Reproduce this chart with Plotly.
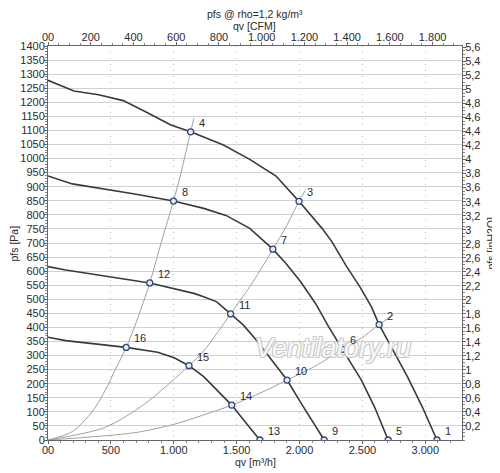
import plotly.graph_objects as go

# fan curves, qv [m3/h] vs pfs [Pa]
q_fan1 = [0, 206, 402, 598, 768, 977, 1134, 1395, 1604, 1813, 1996, 2179, 2257,
          2375, 2479, 2571, 2633, 2727, 2858, 2976, 3093]
p_fan1 = [1278, 1240, 1227, 1206, 1168, 1119, 1095, 1048, 997, 938, 848, 752, 705,
          616, 545, 474, 410, 332, 225, 118, 0]

q_fan2 = [0, 194, 690, 998, 1238, 1415, 1604, 1788, 1891, 2009, 2126, 2231, 2341,
          2492, 2596, 2705]
p_fan2 = [938, 910, 874, 849, 823, 798, 752, 678, 628, 562, 486, 403, 322,
          213, 118, 0]

q_fan3 = [0, 141, 809, 1160, 1238, 1342, 1452, 1552, 1656, 1761, 1901, 2022, 2196]
p_fan3 = [616, 604, 558, 521, 509, 491, 448, 409, 355, 296, 213, 124, 0]

q_fan4 = [0, 141, 622, 872, 1003, 1121, 1238, 1369, 1461, 1578, 1685]
p_fan4 = [365, 353, 329, 312, 292, 264, 225, 166, 124, 59, 0]

# system curves
q_sys1 = [0, 194, 350, 455, 533, 622, 703, 809, 899, 998, 1055, 1134, 1160]
p_sys1 = [0, 30, 100, 176, 248, 329, 420, 558, 700, 849, 945, 1095, 1143]

q_sys2 = [0, 455, 768, 1121, 1238, 1452, 1630, 1788, 1891, 1996, 2048]
p_sys2 = [0, 45, 128, 264, 316, 448, 562, 678, 756, 848, 888]

q_sys3 = [0, 690, 1003, 1238, 1461, 1708, 1901, 2126, 2341, 2492, 2633, 2748]
p_sys3 = [0, 26, 56, 89, 124, 171, 213, 263, 322, 362, 410, 444]

# operating points
op_lbl = ['1', '2', '3', '4', '5', '6', '7', '8',
          '9', '10', '11', '12', '13', '14', '15', '16']
op_q = [3093, 2633, 1996, 1134, 2705, 2341, 1788, 998,
        2196, 1901, 1452, 809, 1685, 1461, 1121, 622]
op_p = [0, 410, 848, 1095, 0, 322, 678, 849,
        0, 213, 448, 558, 0, 124, 264, 329]

# axis ticks
qv_ticks = [0, 500, 1000, 1500, 2000, 2500, 3000]
qv_text = ['00', '500', '1.000', '1.500', '2.000', '2.500', '3.000']
cfm_ticks = [0, 200, 400, 600, 800, 1000, 1200, 1400, 1600, 1800]
cfm_text = ['00', '200', '400', '600', '800', '1.000', '1.200', '1.400', '1.600', '1.800']
inh2o_ticks = [0.2, 0.4, 0.6, 0.8, 1, 1.2, 1.4, 1.6, 1.8, 2, 2.2, 2.4, 2.6, 2.8, 3,
               3.2, 3.4, 3.6, 3.8, 4, 4.2, 4.4, 4.6, 4.8, 5, 5.2, 5.4, 5.6]
inh2o_text = [('%g' % v).replace('.', ',') for v in inh2o_ticks]

Q_MAX = 3292
P_MAX = 1400
M3H_PER_CFM = 1.699
PA_PER_INH2O = 249.09

FONT = 'Liberation Sans, Arial, sans-serif'
TXT = '#2b2b2b'

fig = go.Figure()

for q, p in [(q_sys1, p_sys1), (q_sys2, p_sys2), (q_sys3, p_sys3)]:
    fig.add_trace(go.Scatter(x=q, y=p, mode='lines',
                             line=dict(color='#a0a0a0', width=1, shape='spline', smoothing=0.8),
                             hoverinfo='skip', showlegend=False))

for q, p in [(q_fan1, p_fan1), (q_fan2, p_fan2), (q_fan3, p_fan3), (q_fan4, p_fan4)]:
    fig.add_trace(go.Scatter(x=q, y=p, mode='lines',
                             line=dict(color='#3a3a3a', width=1.6),
                             showlegend=False))

fig.add_trace(go.Scatter(x=op_q, y=op_p, mode='markers',
                         marker=dict(symbol='circle', size=6, color='#e6ecf6',
                                     line=dict(color='#34497a', width=1.3)),
                         showlegend=False))

# same points in CFM / inH2O so the top and right scales get drawn
fig.add_trace(go.Scatter(x=[q / M3H_PER_CFM for q in op_q], y=op_p, xaxis='x2', yaxis='y',
                         mode='markers', marker=dict(opacity=0), hoverinfo='skip', showlegend=False))
fig.add_trace(go.Scatter(x=op_q, y=[p / PA_PER_INH2O for p in op_p], xaxis='x', yaxis='y2',
                         mode='markers', marker=dict(opacity=0), hoverinfo='skip', showlegend=False))

# watermark (under the point labels)
fig.add_annotation(xref='paper', yref='paper', x=(331 - 42) / 420, y=(440 - 348) / 394,
                   xanchor='center', yanchor='middle',
                   text='<i>Ventilatory.ru</i>', showarrow=False,
                   font=dict(size=27, color='rgba(255,255,255,0.9)', family=FONT,
                             shadow='1px 1px 0 #c8c8c8, -1px -1px 0 #c8c8c8, 1px -1px 0 #c8c8c8, -1px 1px 0 #c8c8c8'))

for q, p, t in zip(op_q, op_p, op_lbl):
    fig.add_annotation(x=q, y=p, text=t, showarrow=False, xanchor='left', yanchor='middle',
                       xshift=6, yshift=9, font=dict(size=11, color=TXT, family=FONT))

# titles
titles = [
    ('pfs @ rho=1,2 kg/m³', (252 - 42) / 420, (440 - 14) / 394, 0),
    ('qv [CFM]', (251 - 42) / 420, (440 - 25.5) / 394, 0),
    ('qv [m³/h]', (252 - 42) / 420, (440 - 462) / 394, 0),
    ('pfs [Pa]', (8 - 42) / 420, 0.5, -90),
    ('pfs [inH2O]', (491 - 42) / 420, 0.5, -90),
]
for t, x, y, a in titles:
    fig.add_annotation(xref='paper', yref='paper', x=x, y=y, text=t, showarrow=False,
                       xanchor='center', yanchor='middle',
                       textangle=a, font=dict(size=10.5, color=TXT, family=FONT))

tick_font = dict(size=11, color=TXT, family=FONT)
axis_common = dict(showline=True, linecolor='#666666', linewidth=1, ticks='outside',
                   ticklen=3, tickcolor='#666666', tickfont=tick_font, zeroline=False,
                   ticklabelstandoff=-3)

# page body adds 8px, so the figure is drawn 8px smaller with margins shifted
fig.update_layout(
    width=492, height=465,
    margin=dict(l=34, r=38, t=38, b=33),
    paper_bgcolor='white', plot_bgcolor='white',
    font=dict(family=FONT, color=TXT),
    showlegend=False,
    xaxis=dict(range=[0, Q_MAX], tickvals=qv_ticks, ticktext=qv_text,
               showgrid=True, gridcolor='#bdbdbd', griddash='1px,5px', gridwidth=1,
               minor=dict(dtick=100, ticks='outside', ticklen=2, tickcolor='#888888', showgrid=False),
               **axis_common),
    xaxis2=dict(range=[0, Q_MAX / M3H_PER_CFM], overlaying='x', side='top', anchor='y',
                tickvals=cfm_ticks, ticktext=cfm_text, showgrid=False,
                minor=dict(dtick=50, ticks='outside', ticklen=2, tickcolor='#888888'),
                **axis_common),
    yaxis=dict(range=[0, P_MAX], dtick=50, showgrid=True, gridcolor='#d0d0d0', gridwidth=1.3,
               minor=dict(dtick=10, ticks='outside', ticklen=2, tickcolor='#888888', showgrid=False),
               **axis_common),
    yaxis2=dict(range=[0, P_MAX / PA_PER_INH2O], overlaying='y', side='right', anchor='x',
                tickvals=inh2o_ticks, ticktext=inh2o_text, showgrid=False,
                minor=dict(dtick=0.05, ticks='outside', ticklen=2, tickcolor='#888888'),
                **axis_common),
)

fig.write_html('out.html')
